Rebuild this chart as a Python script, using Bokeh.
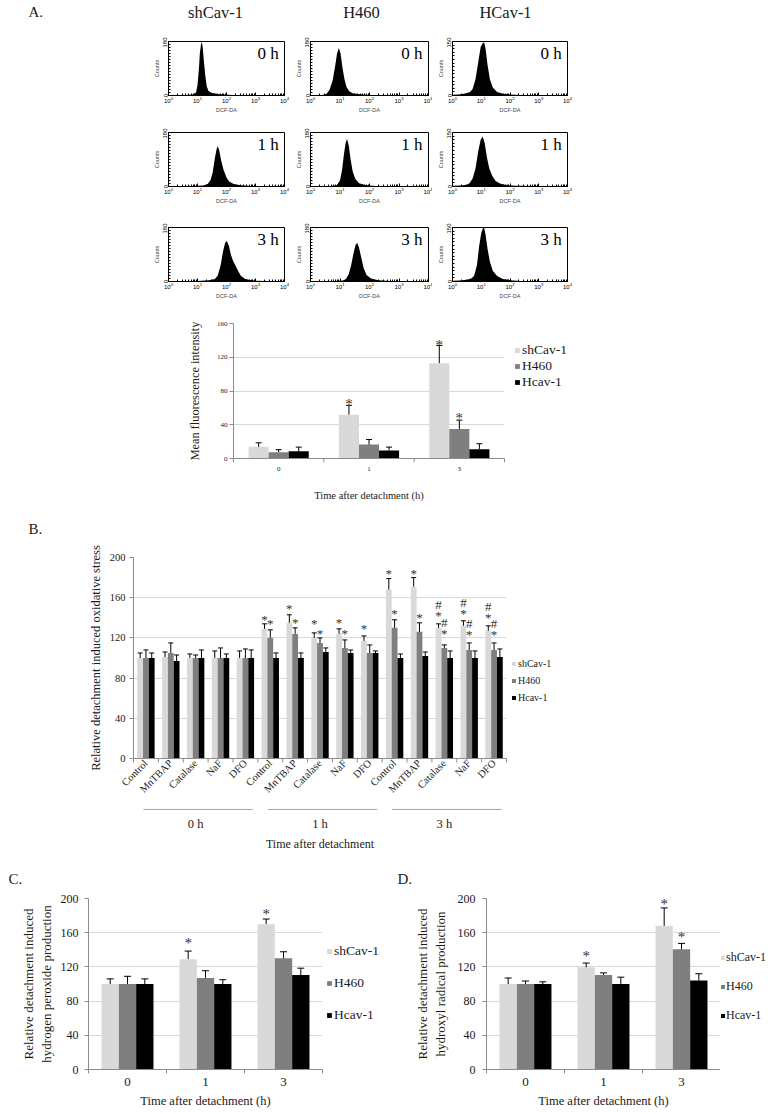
import math
from bokeh.plotting import figure
from bokeh.layouts import column, row
from bokeh.models import (Range1d, FactorRange, ColumnDataSource, Legend, LegendItem,
                          Spacer, FixedTicker, Label)
from bokeh.transform import dodge
from bokeh.core.properties import value
from bokeh.embed import file_html
from bokeh.resources import INLINE

SERIF = "Liberation Serif"
SANS = "Liberation Sans"
AXIS_GRAY = "#8c8c8c"
GRID_GRAY = "#d9d9d9"
TEXT_DARK = "#1a1a1a"

SERIES = ["shCav-1", "H460", "Hcav-1"]
SERIES_COLORS = ["#d9d9d9", "#7f7f7f", "#000000"]

# ---------------- Panel A: flow cytometry histograms ----------------
HIST_COLUMNS = ["shCav-1", "H460", "HCav-1"]
HIST_TIMES = ["0 h", "1 h", "3 h"]
HIST_YMAX = [180, 180, 150]

# log10(DCF-DA intensity) and counts
shcav_0h_log = [0, 0.6, 0.85, 0.95, 1.0, 1.05, 1.08, 1.12, 1.15, 1.18, 1.22, 1.27, 1.32, 1.38, 1.5, 1.7, 1.9, 2.2, 2.6, 4.0]
shcav_0h_cnt = [2, 2, 3, 10, 35, 90, 140, 170, 178, 160, 115, 65, 30, 15, 8, 5, 3, 2, 1, 1]
h460_0h_log = [0, 0.4, 0.55, 0.65, 0.75, 0.83, 0.9, 0.96, 1.02, 1.08, 1.15, 1.22, 1.32, 1.45, 1.7, 2.0, 2.5, 4.0]
h460_0h_cnt = [2, 2, 6, 20, 50, 95, 140, 158, 140, 95, 55, 28, 13, 7, 4, 2, 1, 1]
hcav_0h_log = [0, 0.2, 0.4, 0.6, 0.7, 0.8, 0.9, 0.98, 1.05, 1.1, 1.15, 1.22, 1.3, 1.4, 1.55, 1.75, 2.0, 2.5, 4.0]
hcav_0h_cnt = [2, 3, 5, 9, 18, 45, 95, 135, 145, 148, 130, 85, 45, 22, 10, 5, 3, 1, 1]
shcav_1h_log = [0, 0.8, 1.2, 1.35, 1.45, 1.52, 1.6, 1.66, 1.7, 1.75, 1.82, 1.9, 2.0, 2.1, 2.25, 2.5, 2.8, 4.0]
shcav_1h_cnt = [1, 2, 3, 8, 22, 45, 95, 125, 134, 120, 85, 55, 30, 16, 8, 4, 2, 1]
h460_1h_log = [0, 0.7, 0.9, 1.0, 1.07, 1.13, 1.19, 1.24, 1.3, 1.36, 1.43, 1.52, 1.65, 1.85, 2.2, 4.0]
h460_1h_cnt = [1, 2, 5, 20, 55, 105, 145, 158, 135, 90, 50, 25, 11, 5, 2, 1]
hcav_1h_log = [0, 0.3, 0.5, 0.6, 0.7, 0.8, 0.9, 0.98, 1.05, 1.12, 1.2, 1.28, 1.38, 1.5, 1.65, 1.85, 2.2, 4.0]
hcav_1h_cnt = [2, 3, 5, 10, 22, 50, 100, 130, 139, 120, 80, 50, 30, 15, 8, 4, 2, 1]
shcav_3h_log = [0, 1.0, 1.4, 1.6, 1.7, 1.8, 1.88, 1.95, 2.01, 2.08, 2.15, 2.22, 2.3, 2.4, 2.5, 2.65, 2.9, 4.0]
shcav_3h_cnt = [1, 2, 4, 8, 20, 55, 100, 128, 135, 120, 90, 70, 55, 35, 18, 8, 3, 1]
h460_3h_log = [0, 0.8, 1.1, 1.2, 1.3, 1.38, 1.45, 1.52, 1.58, 1.64, 1.72, 1.8, 1.9, 2.05, 2.3, 2.7, 4.0]
h460_3h_cnt = [1, 2, 3, 8, 25, 55, 90, 120, 129, 115, 80, 45, 22, 10, 4, 2, 1]
hcav_3h_log = [0, 0.25, 0.5, 0.65, 0.75, 0.85, 0.93, 1.0, 1.06, 1.1, 1.15, 1.22, 1.3, 1.4, 1.55, 1.75, 2.1, 2.5, 4.0]
hcav_3h_cnt = [2, 3, 5, 8, 15, 45, 100, 135, 148, 150, 130, 90, 55, 30, 15, 7, 3, 1, 1]

HIST_DATA = {
    ("shCav-1", "0 h"): (shcav_0h_log, shcav_0h_cnt),
    ("H460", "0 h"): (h460_0h_log, h460_0h_cnt),
    ("HCav-1", "0 h"): (hcav_0h_log, hcav_0h_cnt),
    ("shCav-1", "1 h"): (shcav_1h_log, shcav_1h_cnt),
    ("H460", "1 h"): (h460_1h_log, h460_1h_cnt),
    ("HCav-1", "1 h"): (hcav_1h_log, hcav_1h_cnt),
    ("shCav-1", "3 h"): (shcav_3h_log, shcav_3h_cnt),
    ("H460", "3 h"): (h460_3h_log, h460_3h_cnt),
    ("HCav-1", "3 h"): (hcav_3h_log, hcav_3h_cnt),
}

# ---------------- Panel A: mean fluorescence ----------------
A_TIMES = ["0", "1", "3"]
A_SHCAV = [13.8, 52.0, 113.0]
A_SHCAV_ERR = [4.8, 11.0, 21.0]
A_H460 = [7.5, 16.5, 35.0]
A_H460_ERR = [3.0, 6.0, 10.5]
A_HCAV = [8.5, 9.5, 11.0]
A_HCAV_ERR = [5.0, 4.0, 6.5]
A_YTICKS = [0, 40, 80, 120, 160]
A_MARK_X = ["1", "3", "3"]
A_MARK_SERIES = ["shCav-1", "shCav-1", "H460"]
A_MARK_SYM = ["*", "*", "*"]
A_MARK_Y = [68.7, 137.5, 52.1]

# ---------------- Panel B ----------------
B_TIMES = ["0 h", "1 h", "3 h"]
B_TREATMENTS = ["Control", "MnTBAP", "Catalase", "NaF", "DFO"]
B_SHCAV = [100, 101, 100, 100, 100, 129, 135, 120, 124, 117, 168, 171, 130, 132, 127]
B_SHCAV_ERR = [5, 5, 4, 7, 7, 5, 8, 5, 5, 5, 11, 9, 4, 5, 5]
B_H460 = [100, 105, 100, 100, 100, 120, 124, 115, 110, 105, 130, 126, 110, 108, 108]
B_H460_ERR = [8, 10, 3, 10, 9, 8, 6, 5, 8, 8, 8, 9, 3, 7, 7]
B_HCAV = [100, 97, 100, 100, 100, 100, 100, 106, 105, 105, 100, 102, 100, 100, 101]
B_HCAV_ERR = [5, 6, 8, 4, 8, 5, 5, 4, 3, 2, 4, 4, 7, 7, 8]
B_YTICKS = [0, 40, 80, 120, 160, 200]
B_MARK_TIME = ["1 h", "1 h", "1 h", "1 h", "1 h", "1 h", "1 h", "1 h", "1 h",
               "3 h", "3 h", "3 h", "3 h",
               "3 h", "3 h", "3 h", "3 h", "3 h", "3 h", "3 h", "3 h", "3 h", "3 h", "3 h", "3 h"]
B_MARK_TREAT = ["Control", "Control", "MnTBAP", "MnTBAP", "Catalase", "Catalase", "NaF", "NaF", "DFO",
                "Control", "Control", "MnTBAP", "MnTBAP",
                "Catalase", "Catalase", "Catalase", "Catalase", "NaF", "NaF", "NaF", "NaF", "DFO", "DFO", "DFO", "DFO"]
B_MARK_SERIES = ["shCav-1", "H460", "shCav-1", "H460", "shCav-1", "H460", "shCav-1", "H460", "shCav-1",
                 "shCav-1", "H460", "shCav-1", "H460",
                 "shCav-1", "shCav-1", "H460", "H460", "shCav-1", "shCav-1", "H460", "H460",
                 "shCav-1", "shCav-1", "H460", "H460"]
B_MARK_SYM = ["*", "*", "*", "*", "*", "*", "*", "*", "*",
              "*", "*", "*", "*",
              "#", "*", "#", "*", "#", "*", "#", "*", "#", "*", "#", "*"]
B_MARK_Y = [141, 137, 152, 138, 137, 127, 138, 127, 132,
            187, 147, 187, 143,
            156, 145, 138, 127, 158, 147, 137, 126, 154, 143, 137, 126]

# ---------------- Panels C and D ----------------
CD_TIMES = ["0", "1", "3"]
CD_YTICKS = [0, 40, 80, 120, 160, 200]
C_SHCAV = [100, 129, 170]
C_SHCAV_ERR = [6, 9.5, 6]
C_H460 = [100, 107, 130]
C_H460_ERR = [9, 8.5, 7.7]
C_HCAV = [100, 100, 110.5]
C_HCAV_ERR = [6, 5, 8]
C_MARK_X = ["1", "3"]
C_MARK_SERIES = ["shCav-1", "shCav-1"]
C_MARK_SYM = ["*", "*"]
C_MARK_Y = [152, 185.6]

D_SHCAV = [100, 119.5, 168]
D_SHCAV_ERR = [7, 5, 21]
D_H460 = [100, 110.5, 140.5]
D_H460_ERR = [3.5, 2.5, 7]
D_HCAV = [100, 100, 104]
D_HCAV_ERR = [2.5, 8, 8]
D_MARK_X = ["1", "3", "3"]
D_MARK_SERIES = ["shCav-1", "shCav-1", "H460"]
D_MARK_SYM = ["*", "*", "*"]
D_MARK_Y = [136, 197, 158]


# ================= helpers =================
def text_strip(width, height):
    p = figure(width=width, height=height, x_range=Range1d(0, width), y_range=Range1d(height, 0),
               toolbar_location=None, output_backend="svg", x_axis_location=None, y_axis_location=None,
               min_border_left=0, min_border_right=0, min_border_top=0, min_border_bottom=0)
    p.grid.visible = False
    p.outline_line_color = None
    return p


def strip_text(p, x, y, txt, size, align="left"):
    p.text(x=[x], y=[y], text=[txt], text_font=value(SERIF), text_font_size=value(size),
           text_align=align, text_baseline="middle", text_color=TEXT_DARK)


def legend_block(width, height, top_gap, font_px, spacing, glyph=6, standoff=2):
    """A legend placed in its own small canvas, top-aligned after a gap."""
    p = text_strip(width, height - top_gap)
    # zero-height swatch carriers (only their colours are used by the legend)
    rs = [p.vbar(x=[0], top=[0], bottom=[0], width=0.1, fill_color=c, line_color=None)
          for c in SERIES_COLORS]
    lg = Legend(items=[LegendItem(label=value(s), renderers=[r]) for s, r in zip(SERIES, rs)],
                location="top_left", orientation="vertical", padding=0, margin=0, spacing=spacing,
                glyph_width=glyph, glyph_height=glyph, label_standoff=standoff, label_height=8,
                label_text_font=SERIF, label_text_font_size=font_px,
                label_text_color=TEXT_DARK, border_line_color=None, background_fill_alpha=0)
    p.add_layout(lg)
    return column(Spacer(width=width, height=top_gap), p)


def hist_figure(logx, counts, ymax, tlabel, fig_w, frame_w):
    p = figure(width=fig_w, height=84, x_axis_type="log", x_range=Range1d(1, 10000),
               y_range=Range1d(0, ymax), toolbar_location=None, output_backend="svg",
               min_border_left=20, min_border_right=fig_w - 20 - frame_w,
               min_border_top=4, min_border_bottom=26)
    src = ColumnDataSource(dict(x=[10 ** v for v in logx], y=counts))
    p.varea(x="x", y1=0, y2="y", source=src, fill_color="black")
    p.grid.visible = False
    p.outline_line_color = "black"
    p.outline_line_width = 1
    xa = p.xaxis[0]
    ya = p.yaxis[0]
    for ax in (xa, ya):
        ax.axis_line_color = "black"
        ax.major_tick_line_color = "black"
        ax.minor_tick_line_color = "black"
        ax.major_tick_in = 3
        ax.major_tick_out = 0
        ax.minor_tick_in = 2
        ax.minor_tick_out = 0
        ax.major_label_text_font = SANS
        ax.major_label_text_font_size = "6px"
        ax.major_label_text_color = "black"
        ax.major_label_standoff = 1
        ax.axis_label_text_font = SANS
        ax.axis_label_text_font_size = "5.5px"
        ax.axis_label_text_font_style = "normal"
        ax.axis_label_standoff = 1
    ya.ticker = FixedTicker(ticks=[0, ymax], minor_ticks=list(range(0, ymax + 1, 10)))
    ya.major_label_orientation = "vertical"
    ya.axis_label = "Counts"
    xa.axis_label = "DCF-DA"
    p.add_layout(Label(x=10 ** 3.8, y=0.78 * ymax, text=tlabel, text_align="right",
                       text_baseline="middle", text_font=SERIF, text_font_size="17px",
                       text_color="black"))
    return p


def bar_figure(x_range, width, height, mb, y_end, yticks):
    p = figure(width=width, height=height, x_range=x_range, y_range=Range1d(0, y_end),
               toolbar_location=None, output_backend="svg",
               min_border_left=mb[0], min_border_right=mb[1], min_border_top=mb[2],
               min_border_bottom=mb[3])
    p.outline_line_color = None
    p.xgrid.grid_line_color = None
    p.ygrid.grid_line_color = GRID_GRAY
    p.ygrid.grid_line_width = 1.2
    p.yaxis[0].ticker = FixedTicker(ticks=yticks)
    for ax in p.axis:
        ax.axis_line_color = AXIS_GRAY
        ax.major_label_text_font = SERIF
        ax.major_label_text_color = TEXT_DARK
        ax.axis_label_text_font = SERIF
        ax.axis_label_text_font_style = "normal"
        ax.axis_label_text_color = TEXT_DARK
        ax.minor_tick_line_color = None
    ya = p.yaxis[0]
    ya.major_tick_line_color = AXIS_GRAY
    ya.major_tick_out = 4
    ya.major_tick_in = 0
    xa = p.xaxis[0]
    xa.major_tick_line_color = None
    xa.major_tick_out = 0
    xa.major_tick_in = 0
    return p


def add_boundary_ticks(p, factors, tick_len):
    # Excel-style category boundary ticks below the x axis
    src = ColumnDataSource(dict(x=factors))
    left = dodge("x", -0.5, range=p.x_range)
    p.segment(x0=left, x1=left, y0=0, y1=-tick_len, source=src, line_color=AXIS_GRAY,
              line_width=1, level="overlay")
    last = ColumnDataSource(dict(x=[factors[-1]]))
    right = dodge("x", 0.5, range=p.x_range)
    p.segment(x0=right, x1=right, y0=0, y1=-tick_len, source=last, line_color=AXIS_GRAY,
              line_width=1, level="overlay")


def add_bars(p, xs, means_list, errs_list, bar_w, cap_px):
    offsets = [-bar_w, 0.0, bar_w]
    for color, means, errs, off in zip(SERIES_COLORS, means_list, errs_list, offsets):
        src = ColumnDataSource(dict(x=xs, top=means, hi=[m + e for m, e in zip(means, errs)]))
        xd = dodge("x", off, range=p.x_range)
        p.vbar(x=xd, top="top", width=bar_w, source=src, fill_color=color, line_color=None)
        p.segment(x0=xd, y0="top", x1=xd, y1="hi", source=src, line_color="black", line_width=1)
        p.scatter(x=xd, y="hi", marker="dash", size=cap_px, source=src, line_color="black",
                  line_width=1)


def add_marks(p, mx, mseries, msym, my, bar_w, font_px):
    offsets = dict(zip(SERIES, [-bar_w, 0.0, bar_w]))
    for s in SERIES:
        idx = [i for i, v in enumerate(mseries) if v == s]
        if not idx:
            continue
        src = ColumnDataSource(dict(x=[mx[i] for i in idx], y=[my[i] for i in idx],
                                    t=[msym[i] for i in idx]))
        p.text(x=dodge("x", offsets[s], range=p.x_range), y="y", text="t", source=src,
               text_font=value(SERIF), text_font_size=value(font_px), text_align="center",
               text_baseline="middle", y_offset=3, text_color="#333333")


def wrap(*children):
    return row(Spacer(width=8, height=10), *children)


# ================= header =================
header = text_strip(620, 37)
strip_text(header, 20, 11, "A.", "15px")
for name, cx in zip(HIST_COLUMNS, [207, 353, 497]):
    strip_text(header, cx, 12, name, "16.5px", align="center")

# ================= histograms =================
HIST_FIG_W = [142, 142, 141]
HIST_FRAME_W = [116, 118, 115]
hist_rows = []
for t in HIST_TIMES:
    figs = []
    for ci, c in enumerate(HIST_COLUMNS):
        lx, cnt = HIST_DATA[(c, t)]
        figs.append(hist_figure(lx, cnt, HIST_YMAX[ci], t, HIST_FIG_W[ci], HIST_FRAME_W[ci]))
    hist_rows.append(row(Spacer(width=140, height=84), *figs))

# ================= A bar chart =================
pA = bar_figure(FactorRange(factors=A_TIMES), 506, 199, (225, 10, 16, 48), 160, A_YTICKS)
add_bars(pA, A_TIMES, [A_SHCAV, A_H460, A_HCAV], [A_SHCAV_ERR, A_H460_ERR, A_HCAV_ERR], 0.222, 6)
add_marks(pA, A_MARK_X, A_MARK_SERIES, A_MARK_SYM, A_MARK_Y, 0.222, "15px")
add_boundary_ticks(pA, A_TIMES, 4.5)
legA = legend_block(90, 199, 35, "13.5px", -2)
pA.yaxis[0].axis_label = "Mean fluorescence intensity"
pA.yaxis[0].axis_label_text_font_size = "12.3px"
pA.yaxis[0].major_label_text_font_size = "7px"
pA.yaxis[0].major_label_standoff = 2
pA.yaxis[0].axis_label_standoff = 12
pA.xaxis[0].axis_label = "Time after detachment (h)"
pA.xaxis[0].axis_label_text_font_size = "10.5px"
pA.xaxis[0].major_label_text_font_size = "7px"
pA.xaxis[0].major_label_standoff = 8
pA.xaxis[0].axis_label_standoff = 16

# ================= B =================
stripB = text_strip(300, 34)
strip_text(stripB, 20, 22, "B.", "15px")

B_FACTORS = [(t, g) for t in B_TIMES for g in B_TREATMENTS]
pB = bar_figure(FactorRange(factors=B_FACTORS, factor_padding=0, group_padding=0, range_padding=0),
                503, 320, (125, 5, 17, 102), 200, B_YTICKS)
add_bars(pB, B_FACTORS, [B_SHCAV, B_H460, B_HCAV], [B_SHCAV_ERR, B_H460_ERR, B_HCAV_ERR], 0.233, 5)
B_MARK_X = [(t, g) for t, g in zip(B_MARK_TIME, B_MARK_TREAT)]
add_marks(pB, B_MARK_X, B_MARK_SERIES, B_MARK_SYM, B_MARK_Y, 0.233, "13px")
add_boundary_ticks(pB, B_FACTORS, 4)
legB = legend_block(70, 320, 118, "10px", 6, glyph=5)
xb = pB.xaxis[0]
xb.major_label_orientation = math.pi / 4
xb.major_label_text_font_size = "10.5px"
xb.major_label_standoff = 3
xb.group_text_font = SERIF
xb.group_text_font_size = "1px"
xb.group_text_font_style = "normal"
xb.group_text_color = None
xb.separator_line_color = None
xb.axis_label = "Time after detachment"
xb.axis_label_text_font_size = "12px"
xb.axis_label_standoff = 35
yb = pB.yaxis[0]
yb.axis_label = "Relative detachment induced oxidative stress"
yb.axis_label_text_font_size = "12.5px"
yb.major_label_text_font_size = "10.5px"
yb.major_label_standoff = 4
yb.axis_label_standoff = 4
# group brackets and group names under the rotated treatment labels
glsrc = ColumnDataSource(dict(x0=[(t, B_TREATMENTS[0]) for t in B_TIMES],
                              x1=[(t, B_TREATMENTS[-1]) for t in B_TIMES],
                              g=B_TIMES))
pB.segment(x0=dodge("x0", -0.1, range=pB.x_range), x1=dodge("x1", 0.3, range=pB.x_range),
           y0=-50.7, y1=-50.7, source=glsrc, line_color="#a6a6a6", line_width=1, level="overlay")
pB.text(x="g", y=-64.7, text="g", source=glsrc, text_font=value(SERIF),
        text_font_size=value("12.5px"), text_align="center", text_baseline="middle",
        text_color=TEXT_DARK, level="overlay")

# ================= C and D =================
stripCD = text_strip(759, 28)
strip_text(stripCD, 0, 18, "C.", "15px")
strip_text(stripCD, 389, 18, "D.", "15px")


def cd_panel(width, mb, means, errs, mx, ms, msym, my, ylabel, y_stand, y_lab_stand):
    p = bar_figure(FactorRange(factors=CD_TIMES), width, 224, mb, 200, CD_YTICKS)
    add_bars(p, CD_TIMES, means, errs, 0.222, 7)
    add_marks(p, mx, ms, msym, my, 0.222, "15px")
    add_boundary_ticks(p, CD_TIMES, 4.5)
    ya = p.yaxis[0]
    ya.axis_label = ylabel
    ya.axis_label_text_font_size = "13px"
    ya.major_label_text_font_size = "12px"
    ya.major_label_standoff = y_stand
    ya.axis_label_standoff = y_lab_stand
    xa = p.xaxis[0]
    xa.axis_label = "Time after detachment (h)"
    xa.axis_label_text_font_size = "12.5px"
    xa.major_label_text_font_size = "13px"
    xa.major_label_standoff = 8
    xa.axis_label_standoff = 5
    return p


pC = cd_panel(318, (80, 4, 10, 43), [C_SHCAV, C_H460, C_HCAV], [C_SHCAV_ERR, C_H460_ERR, C_HCAV_ERR],
              C_MARK_X, C_MARK_SERIES, C_MARK_SYM, C_MARK_Y,
              "Relative detachment induced\nhydrogen peroxide production", 6, 4)
legC = legend_block(62, 224, 55, "13.5px", 16)
pD = cd_panel(332, (98, 0, 10, 43), [D_SHCAV, D_H460, D_HCAV], [D_SHCAV_ERR, D_H460_ERR, D_HCAV_ERR],
              D_MARK_X, D_MARK_SERIES, D_MARK_SYM, D_MARK_Y,
              "Relative detachment induced\nhydroxyl radical production", 7, 7)
legD = legend_block(47, 224, 62, "12px", 14, glyph=5, standoff=1)

layout = column(wrap(header),
                wrap(hist_rows[0]), Spacer(width=10, height=7),
                wrap(hist_rows[1]), Spacer(width=10, height=11),
                wrap(hist_rows[2]),
                wrap(pA, legA), wrap(stripB), wrap(pB, legB), wrap(stripCD),
                wrap(pC, legC, pD, legD))

open("out.html", "w").write(file_html(layout, INLINE))
